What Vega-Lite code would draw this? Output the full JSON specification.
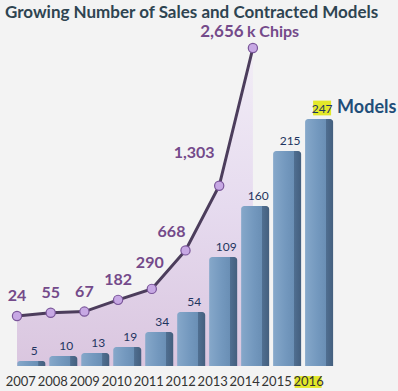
{
  "$schema": "https://vega.github.io/schema/vega-lite/v6.json",
  "width": 398,
  "height": 341,
  "autosize": {"type": "none"},
  "padding": {"left": 0, "top": 25, "right": 0, "bottom": 25},
  "background": "#f3f3f3",
  "config": {"view": {"stroke": null}, "font": "Lato"},
  "title": {
    "text": "Growing Number of Sales and Contracted Models",
    "anchor": "start",
    "frame": "group",
    "orient": "top",
    "offset": -12,
    "dx": 5,
    "baseline": "alphabetic",
    "font": "Lato",
    "fontSize": 17,
    "fontWeight": "bold",
    "color": "#2e4451"
  },
  "datasets": {
    "chips": [
      {"year": 2007, "chips": 24},
      {"year": 2008, "chips": 55},
      {"year": 2009, "chips": 67},
      {"year": 2010, "chips": 182},
      {"year": 2011, "chips": 290},
      {"year": 2012, "chips": 668},
      {"year": 2013, "chips": 1303},
      {"year": 2014, "chips": 2656}
    ],
    "models": [
      {"year": 2007, "models": 5},
      {"year": 2008, "models": 10},
      {"year": 2009, "models": 13},
      {"year": 2010, "models": 19},
      {"year": 2011, "models": 34},
      {"year": 2012, "models": 54},
      {"year": 2013, "models": 109},
      {"year": 2014, "models": 160},
      {"year": 2015, "models": 215},
      {"year": 2016, "models": 247}
    ]
  },
  "layer": [
    {
      "data": {"name": "chips"},
      "encoding": {
        "x": {"field": "year", "type": "quantitative", "scale": {"domain": [2006.4955, 2018.306], "nice": false, "zero": false}, "axis": null},
        "y": {"field": "chips", "type": "quantitative", "scale": {"domain": [-467.6, 2882.1], "nice": false, "zero": false}, "axis": null}
      },
      "layer": [
        {
          "mark": {
            "type": "area",
            "fill": {"x1": 0, "y1": 0, "x2": 0, "y2": 1, "gradient": "linear", "stops": [{"offset": 0, "color": "#f2edf6"}, {"offset": 0.5, "color": "#e6dbef"}, {"offset": 1, "color": "#dac6df"}]}
          },
          "encoding": {"y2": {"datum": -467.6}}
        },
        {"mark": {"type": "line", "color": "#4c3d5c", "strokeWidth": 3}},
        {"mark": {"type": "point", "filled": true, "fill": "#c7a8e4", "stroke": "#7a569a", "strokeWidth": 1.2, "size": 85, "opacity": 1}},
        {
          "transform": [{"filter": "datum.year <= 2010"}],
          "mark": {"type": "text", "dy": -20, "fontSize": 16, "fontWeight": "bold", "color": "#744a8a", "baseline": "middle"},
          "encoding": {"text": {"field": "chips", "type": "quantitative", "format": ","}}
        },
        {
          "transform": [{"filter": "datum.year == 2011"}],
          "mark": {"type": "text", "dx": -2, "dy": -26, "fontSize": 16, "fontWeight": "bold", "color": "#744a8a", "baseline": "middle"},
          "encoding": {"text": {"field": "chips", "type": "quantitative", "format": ","}}
        },
        {
          "transform": [{"filter": "datum.year == 2012"}],
          "mark": {"type": "text", "dx": -14, "dy": -18, "fontSize": 16, "fontWeight": "bold", "color": "#744a8a", "baseline": "middle"},
          "encoding": {"text": {"field": "chips", "type": "quantitative", "format": ","}}
        },
        {
          "transform": [{"filter": "datum.year == 2013"}],
          "mark": {"type": "text", "dx": -25, "dy": -33, "fontSize": 16, "fontWeight": "bold", "color": "#744a8a", "baseline": "middle"},
          "encoding": {"text": {"field": "chips", "type": "quantitative", "format": ","}}
        },
        {
          "transform": [{"filter": "datum.year == 2014"}],
          "mark": {"type": "text", "dx": -31, "dy": -16, "fontSize": 17, "fontWeight": "bold", "color": "#744a8a", "baseline": "middle"},
          "encoding": {"text": {"field": "chips", "type": "quantitative", "format": ","}}
        },
        {
          "transform": [{"filter": "datum.year == 2014"}],
          "mark": {"type": "text", "text": "k Chips", "align": "left", "dx": -6, "dy": -16, "fontSize": 16, "fontWeight": "bold", "color": "#744a8a", "baseline": "middle"}
        }
      ]
    },
    {
      "data": {"name": "models"},
      "encoding": {
        "x": {
          "field": "year", "type": "quantitative",
          "scale": {"domain": [2006.1768, 2018.311], "nice": false, "zero": false},
          "axis": {
            "values": [2007, 2008, 2009, 2010, 2011, 2012, 2013, 2014, 2015, 2016],
            "format": "d", "title": null, "domain": false, "ticks": false, "grid": false,
            "labelOffset": -11, "labelPadding": 9, "labelFontSize": 13, "labelFont": "Lato",
            "labelColor": "#333333", "labelFlush": false, "labelOverlap": false, "zindex": 2
          }
        },
        "y": {"field": "models", "type": "quantitative", "scale": {"domain": [0, 341], "nice": false, "zero": false}, "axis": null}
      },
      "layer": [
        {
          "data": {"values": [{}]},
          "mark": {"type": "rect", "color": "#c6d3df"},
          "encoding": {
            "x": {"datum": 2006.25},
            "x2": {"datum": 2016.95},
            "y": {"datum": 0},
            "y2": {"datum": -6}
          }
        },
        {
          "mark": {
            "type": "bar", "width": 28, "cornerRadiusTopLeft": 3, "cornerRadiusTopRight": 3,
            "fill": {"x1": 0, "y1": 0, "x2": 1, "y2": 0, "gradient": "linear", "stops": [
              {"offset": 0, "color": "#86a8ca"}, {"offset": 0.45, "color": "#7398be"},
              {"offset": 0.74, "color": "#6a8fb5"}, {"offset": 0.76, "color": "#4f6e90"},
              {"offset": 1, "color": "#445f7e"}]}
          },
          "encoding": {"y2": {"datum": 0}}
        },
        {
          "transform": [{"filter": "datum.year == 2016"}],
          "mark": {"type": "point", "shape": "M-1,-0.82H1V0.82H-1Z", "size": 324, "filled": true, "fill": "#e3e82a", "opacity": 1, "strokeWidth": 0, "xOffset": 3, "yOffset": -11},
          "encoding": {}
        },
        {
          "transform": [{"filter": "datum.year == 2016"}],
          "mark": {"type": "point", "shape": "M-1,-0.44H1V0.44H-1Z", "size": 729, "filled": true, "fill": "#e3e82a", "opacity": 1, "strokeWidth": 0, "xOffset": -11, "yOffset": 16},
          "encoding": {"y": {"datum": 0}}
        },
        {
          "mark": {"type": "text", "dx": 3, "dy": -10, "fontSize": 12, "color": "#1f3560", "baseline": "middle"},
          "encoding": {"text": {"field": "models", "type": "quantitative"}}
        },
        {
          "transform": [{"filter": "datum.year == 2016"}],
          "mark": {"type": "text", "text": "Models", "align": "left", "dx": 18, "dy": -11, "fontSize": 18, "fontWeight": "bold", "color": "#1f4e79", "baseline": "middle"}
        }
      ]
    }
  ],
  "resolve": {"scale": {"x": "independent", "y": "independent"}}
}
